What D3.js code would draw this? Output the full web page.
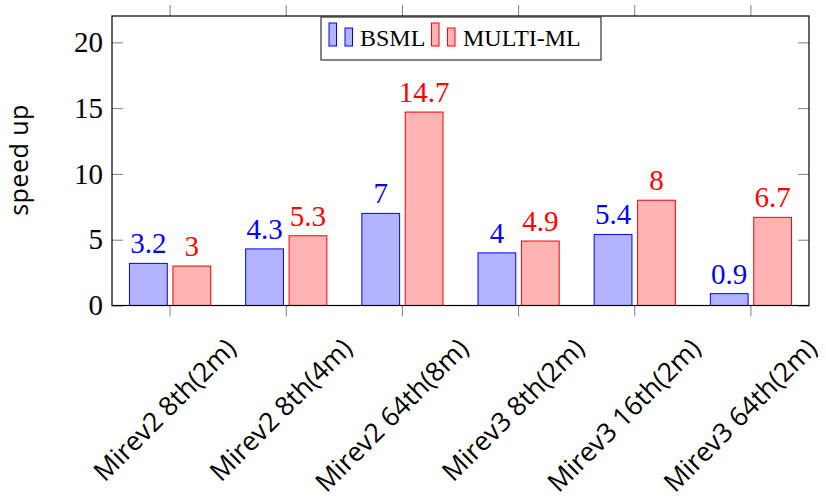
<!DOCTYPE html>
<html>
<head>
<meta charset="utf-8">
<script src="https://cdn.jsdelivr.net/npm/d3@7"></script>
<style>
  body { margin: 0; background: #fff; }
  svg { display: block; }
</style>
</head>
<body>
<svg id="chart" width="826" height="502"></svg>
<script>
const categories = ["Mirev2 8th(2m)", "Mirev2 8th(4m)", "Mirev2 64th(8m)", "Mirev3 8th(2m)", "Mirev3 16th(2m)", "Mirev3 64th(2m)"];
const seriesNames = ["BSML", "MULTI-ML"];
const bsml = [3.2, 4.3, 7, 4, 5.4, 0.9];
const multiml = [3, 5.3, 14.7, 4.9, 8, 6.7];
const yTicks = [0, 5, 10, 15, 20];

const seriesValues = [bsml, multiml];
const strokeColors = ["#0000ff", "#ff0000"];
const fillColors = ["#b3b3ff", "#ffb3b3"];

const svg = d3.select("#chart");
const L = 112, R = 809, T = 16, B = 305.5;
const serif = "'Liberation Serif', 'Times New Roman', serif";
const sans = "'Open Sans', 'Noto Sans', sans-serif";

const x = d3.scaleBand().domain(categories).range([L, R]).paddingInner(0).paddingOuter(0);
const xs = d3.scaleBand().domain(seriesNames).range([17.5, 98.7]).paddingInner(0.13);
const y = d3.scaleLinear().domain([0, 22]).range([B, T]);

// bars
seriesNames.forEach((s, si) => {
  const g = svg.append("g");
  g.selectAll("rect").data(categories).join("rect")
    .attr("x", d => x(d) + xs(s))
    .attr("y", (d, i) => y(seriesValues[si][i]))
    .attr("width", xs.bandwidth())
    .attr("height", (d, i) => y(0) - y(seriesValues[si][i]))
    .attr("fill", fillColors[si])
    .attr("stroke", strokeColors[si])
    .attr("stroke-width", 1);
  g.selectAll("text").data(categories).join("text")
    .attr("x", d => x(d) + xs(s) + xs.bandwidth() / 2)
    .attr("y", (d, i) => y(seriesValues[si][i]) - 10)
    .attr("text-anchor", "middle")
    .attr("font-family", serif)
    .attr("font-size", 29)
    .attr("fill", strokeColors[si])
    .text((d, i) => seriesValues[si][i]);
});

// y axis ticks (inner, both sides)
const yAxisL = svg.append("g").attr("transform", `translate(${L},0)`)
  .call(d3.axisRight(y).tickValues(yTicks).tickSize(11).tickFormat(""));
yAxisL.select(".domain").remove();
yAxisL.selectAll("line").attr("stroke", "#808080");
const yAxisR = svg.append("g").attr("transform", `translate(${R},0)`)
  .call(d3.axisLeft(y).tickValues(yTicks).tickSize(11).tickFormat(""));
yAxisR.select(".domain").remove();
yAxisR.selectAll("line").attr("stroke", "#808080");
// y labels
const yLab = svg.append("g").attr("transform", `translate(${L},0)`)
  .call(d3.axisLeft(y).tickValues(yTicks).tickSize(0).tickPadding(9).tickFormat(d3.format("d")));
yLab.select(".domain").remove();
yLab.selectAll("text").attr("font-family", serif).attr("font-size", 29).attr("fill", "#000");

// x axis ticks (outer, top and bottom)
const xAxisB = svg.append("g").attr("transform", `translate(0,${B})`)
  .call(d3.axisBottom(x).tickSize(11).tickFormat(""));
xAxisB.select(".domain").remove();
xAxisB.selectAll("line").attr("stroke", "#808080");
const xAxisT = svg.append("g").attr("transform", `translate(0,${T})`)
  .call(d3.axisTop(x).tickSize(11).tickFormat(""));
xAxisT.select(".domain").remove();
xAxisT.selectAll("line").attr("stroke", "#808080");

// x labels rotated
svg.append("g").selectAll("text").data(categories).join("text")
  .attr("transform", d => `translate(${x(d) + x.bandwidth() / 2 + 67.5},${B + 44.5}) rotate(-45)`)
  .attr("text-anchor", "end")
  .attr("font-family", sans)
  .attr("font-size", 26.5)
  .attr("fill", "#000")
  .text(d => d);

// frame
svg.append("rect").attr("x", L).attr("y", T).attr("width", R - L).attr("height", B - T)
  .attr("fill", "none").attr("stroke", "#000").attr("stroke-width", 1.2);

// y title
svg.append("text")
  .attr("transform", `translate(28,160) rotate(-90)`)
  .attr("text-anchor", "middle")
  .attr("font-family", sans)
  .attr("font-size", 25)
  .attr("letter-spacing", 0.5)
  .attr("fill", "#000")
  .text("speed up");

// legend
const lg = svg.append("g");
lg.append("rect").attr("x", 321).attr("y", 17).attr("width", 280).attr("height", 43)
  .attr("fill", "#fff").attr("stroke", "#333").attr("stroke-width", 1.2);
const legX = [329, 431.5];
const textX = [360, 463];
seriesNames.forEach((s, si) => {
  lg.append("rect").attr("x", legX[si]).attr("y", 23).attr("width", 7.5).attr("height", 23)
    .attr("fill", fillColors[si]).attr("stroke", strokeColors[si]);
  lg.append("rect").attr("x", legX[si] + 16).attr("y", 28).attr("width", 7.5).attr("height", 18)
    .attr("fill", fillColors[si]).attr("stroke", strokeColors[si]);
  lg.append("text").attr("x", textX[si]).attr("y", 46)
    .attr("font-family", serif).attr("font-size", 24).attr("fill", "#000").text(s);
});
</script>
</body>
</html>
